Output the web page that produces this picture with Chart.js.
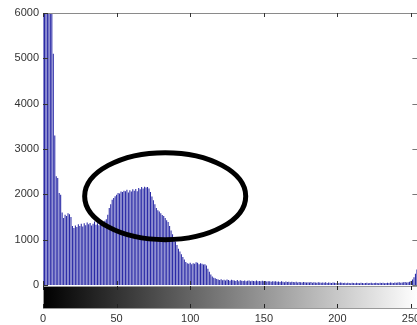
<!DOCTYPE html>
<html>
<head>
<meta charset="utf-8">
<script src="https://cdn.jsdelivr.net/npm/chart.js@4.4.1/dist/chart.umd.min.js"></script>
<style>
  html, body { margin: 0; padding: 0; background: #fff; overflow: hidden; width: 417px; height: 325px; }
  #wrap { position: absolute; left: 0; top: 0; width: 430px; height: 325px; }
</style>
</head>
<body>
<div id="wrap"><canvas id="c" width="430" height="325"></canvas></div>
<script>
// Gray levels 0..255
const grayLevels = Array.from({length: 256}, (_, i) => String(i));

// Pixel counts per gray level (bins 0-6 exceed the 6000 limit)
const counts = [
  9500, 12000, 10800, 8900, 7600, 6900, 6400, 5100, 3300, 2400,
  2360, 2030, 1990, 1600, 1480, 1550, 1520, 1580, 1560, 1500,
  1300, 1260, 1310, 1280, 1340, 1300, 1350, 1290, 1360, 1320,
  1380, 1340, 1370, 1310, 1350, 1400, 1330, 1360, 1320, 1380,
  1340, 1390, 1420, 1450, 1550, 1700, 1780, 1880, 1920, 1960,
  1990, 2030, 2020, 2060, 2050, 2080, 2070, 2100, 2040, 2090,
  2060, 2110, 2080, 2120, 2070, 2140, 2110, 2160, 2130, 2170,
  2150, 2160, 2130, 2050, 1950, 1870, 1780, 1700, 1650, 1620,
  1580, 1545, 1520, 1480, 1430, 1390, 1300, 1200, 1120, 1030,
  960, 880, 800, 740, 680, 620, 560, 510, 480, 470,
  490, 460, 480, 470, 500, 490, 460, 480, 470, 450,
  460, 430, 360, 290, 230, 190, 160, 150, 130, 120,
  110, 125, 105, 115, 100, 120, 110, 95, 115, 105,
  100, 90, 110, 85, 105, 95, 90, 100, 85, 95,
  100, 80, 95, 90, 85, 100, 80, 90, 85, 95,
  80, 90, 75, 85, 80, 70, 85, 75, 80, 70,
  75, 65, 80, 70, 60, 75, 65, 70, 60, 70,
  65, 60, 70, 55, 65, 60, 55, 65, 60, 55,
  60, 55, 65, 50, 60, 55, 50, 60, 55, 50,
  55, 50, 60, 45, 55, 50, 45, 55, 50, 45,
  50, 45, 55, 50, 45, 50, 40, 50, 45, 40,
  50, 45, 40, 50, 45, 40, 50, 45, 40, 45,
  50, 40, 45, 50, 40, 45, 50, 45, 40, 50,
  45, 50, 40, 45, 50, 45, 55, 50, 45, 55,
  50, 55, 60, 50, 55, 60, 65, 55, 60, 70,
  90, 120, 170, 250, 340, 420
];

// Axis tick values
const xTickValues = [0, 50, 100, 150, 200, 250];
const yTickValues = [0, 1000, 2000, 3000, 4000, 5000, 6000];

// Highlight ellipse, in data units (center gray level, center count, half-widths)
const ellipseCenter = [83, 1960];
const ellipseRadii = [54.7, 960];

const FONT = '"Liberation Sans", Arial, sans-serif';

const decorPlugin = {
  id: 'decor',
  afterDraw(chart) {
    const ctx = chart.ctx;
    const xs = chart.scales.x, ys = chart.scales.y;
    const a = chart.chartArea;
    const x0 = xs.getPixelForValue(0), x255 = xs.getPixelForValue(255);
    ctx.save();
    // top border
    ctx.strokeStyle = '#8a8a8a';
    ctx.lineWidth = 1;
    ctx.beginPath();
    ctx.moveTo(a.left, Math.round(a.top) + 0.5);
    ctx.lineTo(a.right, Math.round(a.top) + 0.5);
    ctx.stroke();
    // ticks on main axes
    ctx.strokeStyle = '#333';
    xTickValues.forEach(v => {
      const px = Math.round(xs.getPixelForValue(v)) + 0.5;
      ctx.beginPath();
      ctx.moveTo(px, a.top); ctx.lineTo(px, a.top + 4);
      ctx.moveTo(px, a.bottom); ctx.lineTo(px, a.bottom - 4);
      ctx.stroke();
    });
    yTickValues.forEach(v => {
      const py = Math.round(ys.getPixelForValue(v)) + 0.5;
      ctx.strokeStyle = '#333';
      ctx.beginPath();
      ctx.moveTo(a.left, py); ctx.lineTo(a.left + 5, py);
      ctx.stroke();
      ctx.strokeStyle = '#777';
      ctx.beginPath();
      ctx.moveTo(a.right, py); ctx.lineTo(a.right - 6, py);
      ctx.stroke();
    });
    // ellipse
    const cx = xs.getPixelForValue(ellipseCenter[0]);
    const cy = ys.getPixelForValue(ellipseCenter[1]);
    const rx = xs.getPixelForValue(ellipseCenter[0] + ellipseRadii[0]) - cx;
    const ry = cy - ys.getPixelForValue(ellipseCenter[1] + ellipseRadii[1]);
    ctx.strokeStyle = '#000';
    ctx.lineWidth = 5;
    ctx.beginPath();
    ctx.ellipse(cx, cy, rx, ry, 0, 0, Math.PI * 2);
    ctx.stroke();
    // gray-level colour bar
    const top = a.bottom + 1, bot = a.bottom + 23;
    const g = ctx.createLinearGradient(x0, 0, x255, 0);
    g.addColorStop(0, '#000');
    g.addColorStop(1, '#fff');
    ctx.fillStyle = g;
    ctx.fillRect(x0, top, x255 - x0, bot - top);
    ctx.strokeStyle = '#999';
    ctx.lineWidth = 1;
    ctx.strokeRect(x0 + 0.5, top + 0.5, x255 - x0, bot - top);
    ctx.strokeStyle = '#222';
    xTickValues.forEach(v => {
      const px = Math.round(xs.getPixelForValue(v)) + 0.5;
      ctx.beginPath();
      ctx.moveTo(px, top); ctx.lineTo(px, top + 4);
      ctx.moveTo(px, bot); ctx.lineTo(px, bot - 4);
      ctx.stroke();
    });
    ctx.restore();
  }
};

new Chart(document.getElementById('c'), {
  type: 'bar',
  data: {
    labels: grayLevels,
    datasets: [{
      data: counts,
      backgroundColor: '#2a2aa6',
      borderWidth: 0,
      barPercentage: 0.72,
      categoryPercentage: 1.0
    }]
  },
  options: {
    responsive: false,
    animation: false,
    events: [],
    layout: { padding: { top: 13, right: 11.6, left: 0, bottom: 0 } },
    plugins: { legend: { display: false }, tooltip: { enabled: false } },
    scales: {
      x: {
        type: 'category',
        offset: false,
        grid: { display: false, drawTicks: false },
        border: { display: false },
        ticks: {
          autoSkip: false,
          maxRotation: 0,
          minRotation: 0,
          padding: 27,
          color: '#333',
          font: { family: FONT, size: 11 },
          callback: (v, i) => (xTickValues.includes(i) ? grayLevels[i] : null)
        },
        afterFit: s => { s.height = 40; s.paddingLeft = 0; s.paddingRight = 0; }
      },
      y: {
        min: 0,
        max: 6000,
        grid: { display: false, drawTicks: false },
        border: { display: false },
        ticks: {
          stepSize: 1000,
          padding: 4,
          color: '#333',
          font: { family: FONT, size: 11 },
          callback: v => String(v)
        },
        afterFit: s => { s.width = 43; s.paddingTop = 0; s.paddingBottom = 0; }
      }
    }
  },
  plugins: [decorPlugin]
});
</script>
</body>
</html>
